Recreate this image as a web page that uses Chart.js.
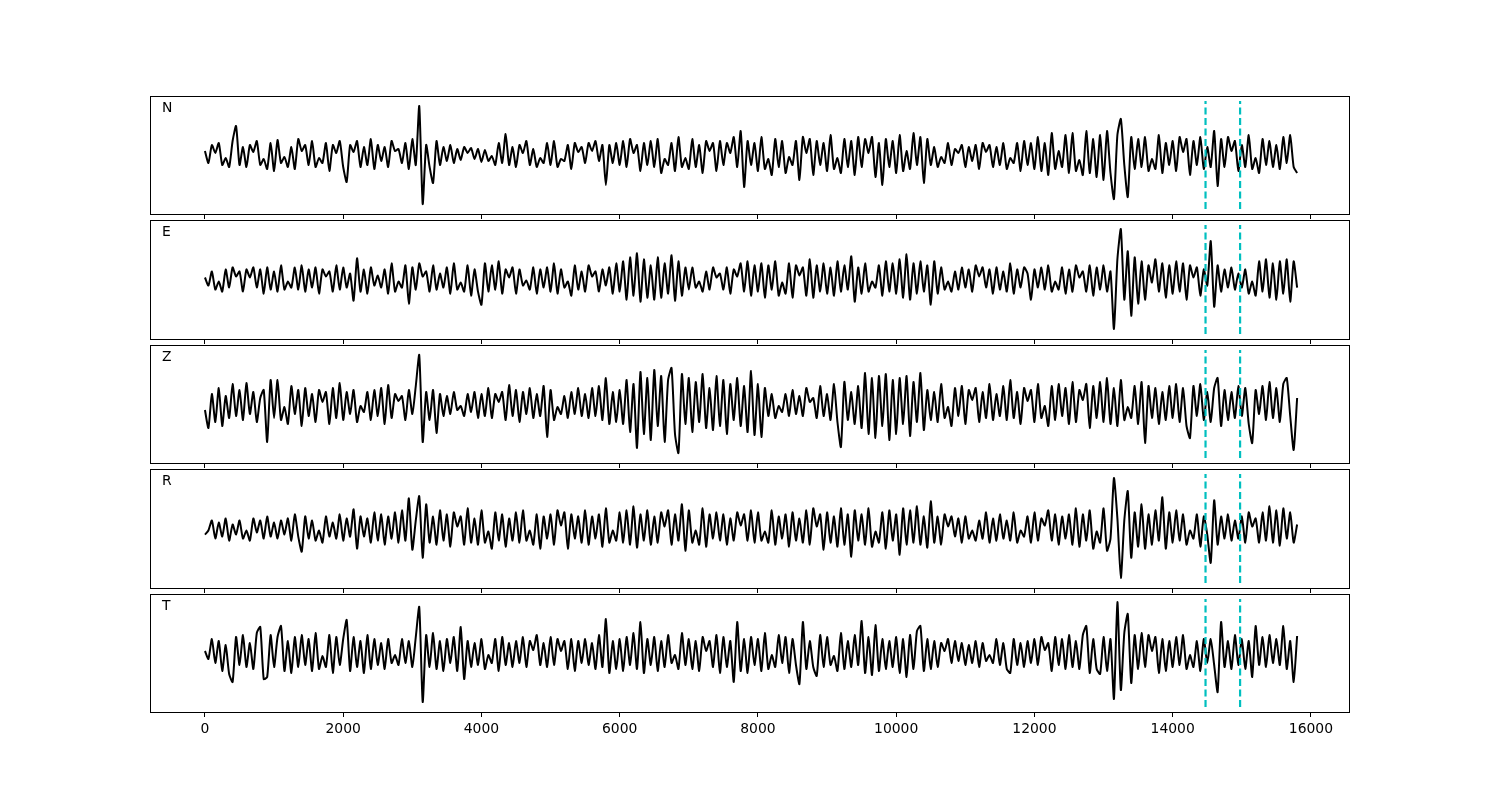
<!DOCTYPE html>
<html><head><meta charset="utf-8">
<script src="https://cdn.jsdelivr.net/npm/chart.js@4/dist/chart.umd.min.js"></script>
<style>
html,body{margin:0;padding:0;background:#fff;}
#wrap{position:relative;width:1500px;height:800px;background:#fff;overflow:hidden;}
canvas{position:absolute;left:0;}
</style></head><body><div id="wrap"></div>
<script>
// sample interval of the traces (x units)
const DT = 50;
const X_TICKS = [0, 2000, 4000, 6000, 8000, 10000, 12000, 14000, 16000];
const PICKS = [14475, 14975];
const COMPONENTS = ['N', 'E', 'Z', 'R', 'T'];

const TRACE_N = [
 4,-8,10,2,12,-10,-3,-12,14,29,
 -10,8,-12,10,3,14,-10,-4,-14,12,
 -16,15,-8,-2,-12,8,-14,16,4,10,
 -10,14,-12,-3,-8,12,-16,10,2,14,
 -12,-27,10,3,14,-12,8,-10,16,-14,
 10,-6,8,-12,14,4,6,-8,12,-14,
 16,-10,49,-49,10,-12,-28,14,-10,8,
 -6,10,-8,6,-5,8,2,7,-4,6,
 -7,5,-6,-1,-10,12,-8,21,-10,8,
 -12,10,2,14,-10,6,-12,-3,-8,12,
 -10,14,-12,-4,-6,10,-14,12,3,8,
 -8,12,4,14,-6,10,-30,10,-8,12,
 -10,14,-12,16,2,10,-16,12,-10,14,
 -12,16,-18,-4,-10,12,-16,18,-12,-3,
 -14,16,-12,10,-18,14,4,12,-16,14,
 -10,12,2,18,-12,24,-32,14,-10,12,
 -16,18,-14,-4,-20,16,-12,14,-18,-2,
 -10,14,-25,18,2,16,-20,14,-10,12,
 -16,20,-14,-3,-18,16,-12,14,-20,18,
 -12,16,2,18,-22,12,-30,16,-12,14,
 -18,20,-16,4,-14,22,-10,18,-28,16,
 -10,8,-12,-2,-8,12,-10,6,2,10,
 -12,8,-6,10,-14,12,3,10,-12,8,
 -10,12,-14,-3,-8,12,-16,14,-10,12,
 -14,18,-16,12,-20,22,-14,4,-12,20,
 -18,22,-16,-5,-20,24,-18,16,-22,20,
 -25,24,-18,-44,20,36,-10,-42,18,-14,
 16,-12,18,-16,-4,-14,20,-18,12,-10,
 14,-16,18,3,16,-20,14,-10,18,-14,
 8,-12,24,-31,16,-12,18,4,14,-16,
 10,-12,20,-14,-3,-18,16,-10,14,-12,
 10,-14,18,-8,20,-12,-18
];

const TRACE_E = [
 2,-6,8,-10,-2,-12,10,-8,12,3,
 8,-12,10,2,12,-8,10,-14,12,-10,
 8,-12,14,-10,-2,-8,12,-10,14,-12,
 10,-8,12,-14,10,3,8,-12,14,-10,
 12,-8,6,-21,21,-12,10,-14,12,-6,
 4,-8,10,-14,16,-12,-2,-8,14,-24,
 12,-10,16,3,8,-12,14,-10,6,-8,
 12,-14,16,-10,-3,-12,14,-16,10,-12,
 -25,16,-12,14,-10,18,-14,10,2,12,
 -14,10,-6,-1,-10,12,-14,10,-8,12,
 -12,16,-14,10,-8,-2,-16,14,-10,8,
 -12,14,3,8,-12,10,-6,12,-14,16,
 -12,18,-20,22,-16,26,-22,20,-18,14,
 -20,22,-18,16,-14,24,-21,18,-16,12,
 -10,12,-8,-2,-12,8,-10,12,2,6,
 -10,12,-14,10,3,16,-12,18,-16,14,
 -12,16,-18,14,-10,18,-16,-3,-14,16,
 -18,14,4,12,-16,20,-18,14,-12,16,
 -14,12,-16,18,-12,14,-10,23,-22,12,
 -14,16,-12,-2,-8,14,-16,18,-12,16,
 -14,20,-18,25,-20,16,-14,18,-12,14,
 -25,18,-14,12,-10,-2,-12,8,-10,12,
 -8,10,-12,14,3,12,-8,10,-14,12,
 -10,8,-12,16,-14,10,-8,12,6,-20,
 10,-8,12,-10,14,-12,-2,-10,12,-14,
 10,-12,14,2,8,-12,14,-16,12,-10,
 14,-12,8,-49,20,50,-20,28,-36,22,
 -24,18,-20,14,-3,20,-12,16,-18,14,
 -14,18,-12,16,-20,14,2,12,-16,10,
 -6,38,-27,14,-12,10,-8,12,-10,6,
 -8,10,-14,-2,-16,18,-12,20,-18,16,
 -20,18,-14,20,-22,18,-8
];

const TRACE_Z = [
 -6,-24,10,-18,16,-22,8,-14,20,-12,
 14,-16,21,-10,12,-18,6,14,-38,24,
 -14,24,-16,-3,-20,18,-10,14,-22,16,
 -12,10,-18,14,2,12,-20,16,-14,21,
 -16,12,-10,14,-18,-2,-8,12,-16,14,
 -12,16,-20,19,-14,10,3,8,-16,14,
 -10,18,49,-38,12,-16,14,-29,10,-12,
 8,-10,12,-6,-2,-12,10,-8,12,-14,
 10,-12,16,-14,10,2,12,-16,19,-12,
 14,-18,12,-10,16,-14,10,-12,18,-33,
 14,-16,-3,-10,8,-14,12,-10,16,-12,
 10,-14,16,-12,18,-16,26,-20,12,-18,
 14,-20,24,-28,20,-44,32,-30,26,-36,
 34,-22,28,-38,24,36,-30,-49,30,-20,
 26,-28,22,-18,30,-24,16,-26,28,-22,
 24,-30,20,-16,26,-22,18,-28,33,-31,
 20,-33,16,-12,10,-14,-2,-8,10,-12,
 14,-10,8,-12,16,2,6,-14,18,-12,
 10,-16,20,-18,-43,22,-16,12,-20,18,
 -24,31,-30,26,-34,28,-22,30,-36,24,
 -30,26,-20,28,-32,22,-18,31,-26,14,
 -16,12,-18,20,-14,-3,-22,16,-12,18,
 -20,14,4,16,-18,12,-14,20,-16,10,
 -12,18,-16,24,-14,12,-20,16,3,14,
 -18,20,-14,-2,-22,18,-16,20,-12,16,
 -20,22,-18,14,4,20,-24,18,-14,22,
 -18,26,-20,16,-22,24,-16,-3,-14,18,
 -20,22,-39,18,-14,16,-20,12,-16,18,
 -14,20,-18,16,-22,-34,18,-12,20,-16,
 12,-18,16,26,-22,14,-16,12,-14,18,
 -12,16,-20,-39,14,-10,18,-16,22,-14,
 16,-18,20,26,-12,-46,6
];

const TRACE_R = [
 -6,-2,8,-10,6,-8,10,-12,4,-6,
 8,-10,-2,-12,10,-4,8,-10,12,-8,
 6,-10,8,-6,10,-12,14,-8,-23,12,
 -10,8,-12,-2,-14,12,-8,6,-10,14,
 -12,10,-8,19,-20,12,-8,10,-14,16,
 -12,14,-16,12,-10,16,-14,18,-12,30,
 -21,8,32,-29,24,-14,12,-16,18,-12,
 14,-18,16,2,12,-16,20,-14,10,-16,
 18,-14,-3,-20,16,-12,14,-18,10,-12,
 16,-14,18,-12,-2,-16,14,-20,12,-10,
 14,-16,18,3,16,-20,14,-10,12,-14,
 18,-16,12,-10,14,-18,20,-14,-2,-12,
 16,-14,18,-16,22,-19,14,-12,18,-16,
 12,-14,16,2,18,-16,14,-12,24,-22,
 18,-14,-2,-16,20,-18,14,-10,16,-12,
 14,-16,10,-12,16,3,14,-12,18,-14,
 16,-12,-3,-14,18,-16,12,-10,14,-18,
 16,-12,10,-14,18,-16,20,2,14,-21,
 16,-14,12,-18,20,-16,14,-28,18,-12,
 14,-16,20,-18,-3,-14,16,-20,18,-12,
 14,-26,20,-16,18,-14,22,-16,12,-19,
 27,-14,12,-16,14,2,12,-8,10,-14,
 12,-10,-2,-12,8,-10,16,-14,10,-12,
 14,-10,8,-12,16,-14,-2,-8,12,-14,
 16,-12,10,3,18,-12,14,-16,12,-10,
 14,-16,20,-18,14,-12,18,-20,-3,-14,
 20,-22,-10,50,10,-49,8,37,-29,16,
 -18,24,-20,14,-16,18,-12,31,-20,16,
 -14,18,-12,14,-16,-2,-10,14,-18,12,
 -6,-34,28,-16,12,-10,14,-12,8,-10,
 12,-14,16,2,10,-14,16,-12,22,-14,
 18,-17,20,-10,16,-14,4
];

const TRACE_T = [
 2,-6,14,-10,12,-18,8,-21,-29,16,
 -12,18,-14,10,-16,20,26,-26,-24,18,
 -14,16,27,-18,12,-20,16,-14,18,-12,
 14,-18,20,-16,-3,-14,18,-20,16,-12,
 14,33,-18,16,-14,12,-20,18,-16,14,
 -12,10,-16,14,-10,-2,-12,14,-10,12,
 -14,16,46,-49,18,-14,20,-16,12,-18,
 14,-10,16,-18,26,-26,12,-14,10,-12,
 14,-16,-2,-10,14,-18,16,-12,10,-14,
 12,-10,16,-14,12,3,18,-12,10,-14,
 16,-12,14,2,12,-16,14,-18,12,-10,
 14,-12,10,-16,18,-14,34,-20,12,-16,
 14,-18,16,-12,20,-16,31,-20,14,-12,
 16,-18,12,-14,18,-10,-2,-16,20,-12,
 14,-16,12,-18,16,2,12,-14,18,-20,
 16,-14,12,-29,31,-18,14,-20,16,-12,
 14,-18,20,-16,-2,-14,18,-10,16,-20,
 14,-12,-31,31,-16,12,-14,-23,18,-14,
 16,-12,-3,-18,20,-16,12,-14,18,-12,
 32,-20,16,-22,28,-18,14,-16,12,-14,
 16,-20,14,-24,18,-16,22,27,-18,14,
 -16,12,-14,10,2,14,-10,12,-8,10,
 -12,8,-10,12,-14,10,-8,-2,-10,14,
 -12,10,-16,-20,14,-12,10,-14,12,-10,
 14,-12,16,3,10,-18,16,-12,14,-16,
 18,-14,12,-16,18,27,-20,14,-16,-21,
 16,-18,14,-46,51,-37,20,39,-30,18,
 -16,20,-14,18,2,16,-20,14,-18,12,
 -14,16,-12,18,-16,-2,-14,12,-18,14,
 -10,14,-12,-39,31,-14,12,-16,18,-12,
 14,-16,12,-24,27,-12,16,-14,18,-10,
 14,-12,27,-16,12,-29,17
];

const TRACES = [TRACE_N, TRACE_E, TRACE_Z, TRACE_R, TRACE_T];

// layout (page pixels) of the five stacked panels
const PANELS = [[96,214],[220,339],[345,463],[469,588],[594,712]];

const framePlugin = {
  id: 'frameLabel',
  afterDraw(chart, args, opts) {
    const {ctx, chartArea: a} = chart;
    ctx.save();
    ctx.strokeStyle = '#000';
    ctx.lineWidth = 1;
    ctx.strokeRect(a.left + 0.5, a.top + 0.5, a.right - a.left - 1, a.bottom - a.top);
    ctx.fillStyle = '#000';
    ctx.font = '13.9px "DejaVu Sans", sans-serif';
    ctx.textBaseline = 'middle';
    ctx.textAlign = 'left';
    ctx.fillText(opts.text, a.left + 12, a.top + 12);
    ctx.restore();
  }
};

const wrap = document.getElementById('wrap');
PANELS.forEach(([top, bot], k) => {
  const last = k === PANELS.length - 1;
  const axisH = last ? 40 : 6;
  const pad = 3;
  const h = bot - top + pad + axisH;
  const c = document.createElement('canvas');
  c.width = 1500; c.height = h;
  c.style.width = '1500px'; c.style.height = h + 'px';
  c.style.top = (top - pad) + 'px';
  wrap.appendChild(c);
  const datasets = PICKS.map(p => ({
    data: [{x: p, y: -54}, {x: p, y: 54}],
    borderColor: '#00bfbf', borderWidth: 2.2, borderDash: [7, 3.5],
    pointRadius: 0, tension: 0
  }));
  datasets.push({
    data: TRACES[k].map((v, i) => ({x: i * DT, y: v})),
    borderColor: '#000', borderWidth: 2, pointRadius: 0, tension: 0.2
  });
  new Chart(c, {
    type: 'line',
    data: {datasets},
    options: {
      responsive: false, animation: false, devicePixelRatio: 1,
      layout: {padding: {left: 150, right: 150, top: pad, bottom: 0}},
      plugins: {legend: {display: false}, tooltip: {enabled: false}, frameLabel: {text: COMPONENTS[k]}},
      scales: {
        x: {
          type: 'linear', min: -795, max: 16565,
          afterBuildTicks: s => { s.ticks = X_TICKS.map(v => ({value: v})); },
          afterFit: s => { s.height = axisH; },
          grid: {drawOnChartArea: false, drawTicks: true, tickLength: 5, tickColor: '#000', tickWidth: 1},
          border: {display: false},
          ticks: {display: last, color: '#000', padding: 4, maxRotation: 0, autoSkip: false,
                  font: {family: 'DejaVu Sans', size: 13.9},
                  callback: v => String(v)}
        },
        y: {display: false, min: -59, max: 59}
      }
    },
    plugins: [framePlugin]
  });
});
</script>
</body></html>
